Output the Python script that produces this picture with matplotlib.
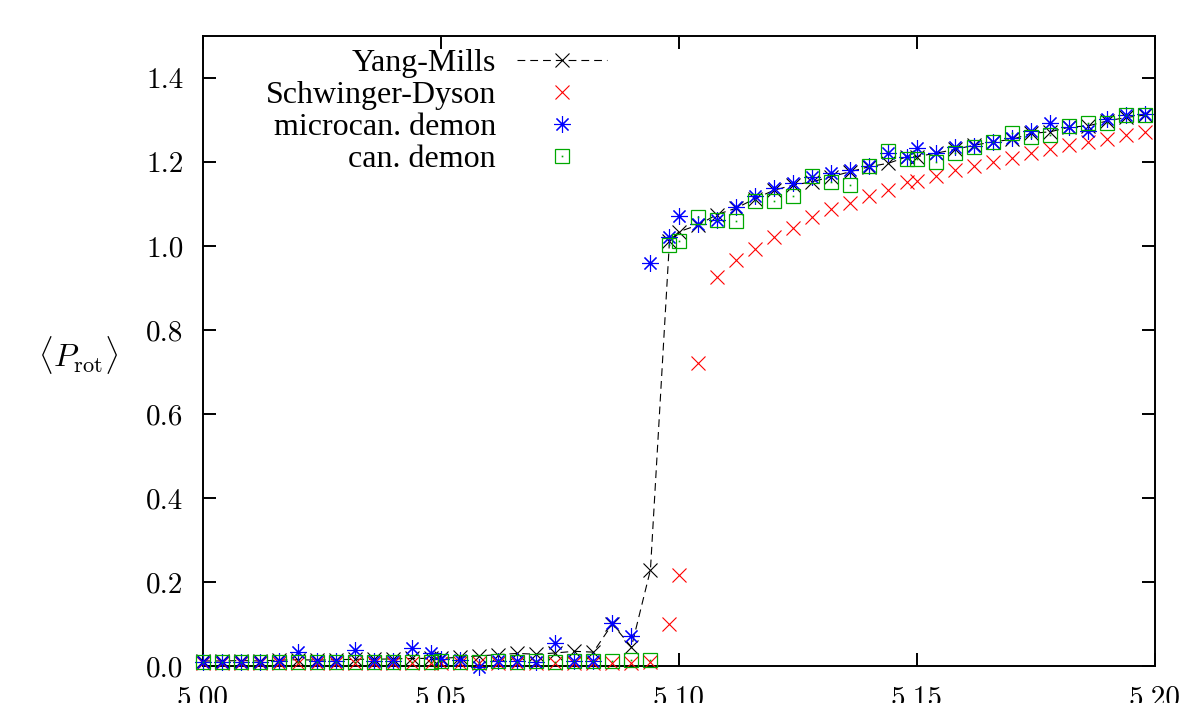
import numpy as np
import matplotlib
matplotlib.use('Agg')
import matplotlib.pyplot as plt
from matplotlib.ticker import FormatStrFormatter
from matplotlib.legend_handler import HandlerTuple

plt.rcParams['mathtext.fontset'] = 'cm'

# coupling values (same grid for all four runs)
beta = [5.000, 5.004, 5.008, 5.012, 5.016, 5.020, 5.024, 5.028, 5.032, 5.036, 5.040, 5.044, 5.048,
        5.050, 5.054, 5.058, 5.062, 5.066, 5.070, 5.074, 5.078, 5.082, 5.086, 5.090, 5.094, 5.098,
        5.100, 5.104, 5.108, 5.112, 5.116, 5.120, 5.124, 5.128, 5.132, 5.136, 5.140, 5.144, 5.148,
        5.150, 5.154, 5.158, 5.162, 5.166, 5.170, 5.174, 5.178, 5.182, 5.186, 5.190, 5.194, 5.198]

yang_mills = [0.012, 0.012, 0.013, 0.012, 0.014, 0.015, 0.014, 0.015, 0.016, 0.016, 0.017, 0.018, 0.018,
              0.018, 0.021, 0.024, 0.027, 0.030, 0.028, 0.031, 0.035, 0.033, 0.100, 0.045, 0.229, 1.012,
              1.034, 1.050, 1.075, 1.090, 1.113, 1.133, 1.145, 1.153, 1.165, 1.177, 1.189, 1.197, 1.213,
              1.213, 1.221, 1.230, 1.240, 1.248, 1.254, 1.268, 1.272, 1.283, 1.286, 1.298, 1.306, 1.312]

schwinger_dyson = [0.006, 0.006, 0.006, 0.007, 0.006, 0.006, 0.007, 0.006, 0.006, 0.007, 0.006, 0.006, 0.007,
                   0.006, 0.006, 0.007, 0.006, 0.006, 0.007, 0.006, 0.007, 0.006, 0.007, 0.008, 0.010, 0.100,
                   0.217, 0.721, 0.927, 0.967, 0.994, 1.021, 1.044, 1.068, 1.089, 1.103, 1.119, 1.133, 1.152,
                   1.155, 1.167, 1.181, 1.190, 1.201, 1.209, 1.221, 1.230, 1.240, 1.248, 1.254, 1.264, 1.272]

microcan = [0.010, 0.009, 0.010, 0.009, 0.011, 0.034, 0.011, 0.012, 0.038, 0.013, 0.012, 0.042, 0.030,
            0.016, 0.014, -0.002, 0.012, 0.011, 0.010, 0.054, 0.013, 0.013, 0.103, 0.071, 0.959, 1.022,
            1.071, 1.052, 1.063, 1.092, 1.118, 1.137, 1.149, 1.165, 1.173, 1.181, 1.190, 1.222, 1.213,
            1.234, 1.221, 1.235, 1.237, 1.248, 1.256, 1.275, 1.292, 1.284, 1.275, 1.302, 1.312, 1.314]

can_demon = [0.010, 0.009, 0.010, 0.010, 0.009, 0.010, 0.010, 0.009, 0.010, 0.010, 0.010, 0.009, 0.010,
             0.011, 0.010, 0.010, 0.011, 0.010, 0.011, 0.010, 0.011, 0.012, 0.012, 0.014, 0.014, 1.002,
             1.013, 1.068, 1.063, 1.060, 1.108, 1.108, 1.118, 1.167, 1.153, 1.145, 1.190, 1.227, 1.206,
             1.206, 1.201, 1.221, 1.235, 1.248, 1.268, 1.260, 1.264, 1.286, 1.292, 1.292, 1.312, 1.312]

xticks = [5.00, 5.05, 5.10, 5.15, 5.20]
yticks = [0.0, 0.2, 0.4, 0.6, 0.8, 1.0, 1.2, 1.4]

green = '#00a800'

fig = plt.figure(figsize=(11.81, 7.03), dpi=100)
ax = fig.add_axes([203/1181, 37/703, 952/1181, 630/703])

l1, = ax.plot(beta, yang_mills, color='black', lw=0.8, dashes=(7, 4.5), marker='x', ms=10, mew=0.8,
              clip_on=False, zorder=3)
l2, = ax.plot(beta, schwinger_dyson, ls='none', marker='x', color='red', ms=10, mew=0.8,
              clip_on=False, zorder=4)
l3, = ax.plot(beta, microcan, ls='none', marker=(8, 2, 0), color='blue', ms=12, mew=0.8,
              clip_on=False, zorder=5)
l4, = ax.plot(beta, can_demon, ls='none', marker='s', mfc='none', mec=green, ms=10, mew=0.9,
              clip_on=False, zorder=6)
l5, = ax.plot(beta, can_demon, ls='none', marker='s', color=green, ms=1.2, mew=0,
              clip_on=False, zorder=6)

ax.set_xlim(5.0, 5.2)
ax.set_ylim(0, 1.5)
ax.set_xticks(xticks)
ax.set_yticks(yticks)
ax.xaxis.set_major_formatter(FormatStrFormatter('%.2f'))
ax.yaxis.set_major_formatter(FormatStrFormatter('%.1f'))
ax.tick_params(direction='in', length=9.4, width=1.4, top=True, right=True, labelsize=21, pad=14)
for lab in ax.get_xticklabels() + ax.get_yticklabels():
    lab.set_fontfamily('cmr10')
for sp in ax.spines.values():
    sp.set_linewidth(1.4)

ax.set_ylabel(r'$\langle P_{\rm rot}\rangle$', rotation=0, fontsize=23, ha='center', va='center')
ax.yaxis.set_label_coords(-0.131, 0.494)

ax.legend([l1, l2, l3, (l4, l5)], ['Yang-Mills', 'Schwinger-Dyson', 'microcan. demon', 'can. demon'],
          handler_map={tuple: HandlerTuple(ndivide=1)},
          loc='upper right', bbox_to_anchor=(0.424, 0.980), frameon=False, markerfirst=False,
          prop={'family': 'Liberation Serif', 'size': 23}, handlelength=2.8, handletextpad=0.66,
          labelspacing=0.08, borderpad=0, borderaxespad=0, numpoints=1)

fig.savefig('out.png', dpi=100)
